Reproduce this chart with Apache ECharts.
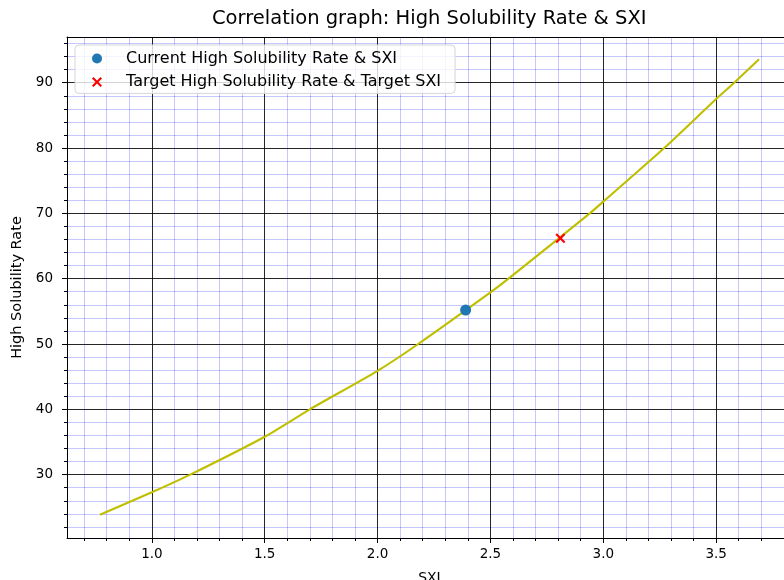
<!DOCTYPE html>
<html>
<head>
<meta charset="utf-8">
<script src="https://cdn.jsdelivr.net/npm/echarts@6/dist/echarts.min.js"></script>
<style>
  html, body { margin: 0; padding: 0; background: #fff; }
  #chart { width: 784px; height: 580px; }
</style>
</head>
<body>
<div id="chart"></div>
<script>
// curve (SXI -> High Solubility Rate)
const curveSXI = [0.77, 1.0, 1.17, 1.5, 1.70, 2.0, 2.18, 2.5, 2.58, 2.94, 3.0, 3.27, 3.5, 3.58, 3.69];
const curveRate = [23.85, 27.3, 30, 35.8, 40, 45.9, 50, 57.9, 60, 70, 71.8, 80, 87.5, 90, 93.6];

const currentPoint = [2.39, 55.2];
const targetPoint = [2.81, 66.2];

const xTicks = [1.0, 1.5, 2.0, 2.5, 3.0, 3.5];
const yTicks = [30, 40, 50, 60, 70, 80, 90];

const seriesNames = ['Current High Solubility Rate & SXI', 'Target High Solubility Rate & Target SXI'];

const FONT = 'DejaVu Sans';
// thin "x" marker like matplotlib's
const crossPath = 'path://M1.5,0 L5,3.5 L8.5,0 L10,1.5 L6.5,5 L10,8.5 L8.5,10 L5,6.5 L1.5,10 L0,8.5 L3.5,5 L0,1.5 Z';

const chart = echarts.init(document.getElementById('chart'), null, { renderer: 'canvas' });

const option = {
  animation: false,
  backgroundColor: '#fff',
  title: {
    text: 'Correlation graph: High Solubility Rate & SXI',
    left: 212,
    top: 9,
    padding: 0,
    textStyle: { fontFamily: FONT, fontSize: 19.5, fontWeight: 'normal', color: '#000' }
  },
  legend: {
    orient: 'vertical',
    left: 75,
    top: 45,
    padding: [4, 14, 2, 17],
    itemGap: 4.4,
    itemWidth: 10,
    itemHeight: 10,
    backgroundColor: 'rgba(255,255,255,0.8)',
    borderColor: '#d6d6d6',
    borderWidth: 1,
    borderRadius: 4,
    textStyle: { fontFamily: FONT, fontSize: 16, color: '#000', lineHeight: 19, padding: [0, 0, 0, 19] },
    data: [
      { name: seriesNames[0], icon: 'circle' },
      { name: seriesNames[1], icon: crossPath }
    ]
  },
  grid: { left: 67, top: 37, width: 725, height: 501, outerBoundsMode: 'none' },
  xAxis: [
    {
      type: 'value',
      min: 0.624,
      max: 3.836,
      splitNumber: 6,
      position: 'bottom',
      name: 'SXI',
      nameLocation: 'middle',
      nameGap: 33,
      nameTextStyle: { fontFamily: FONT, fontSize: 13.9, color: '#000' },
      axisLine: { show: true, lineStyle: { color: '#000', width: 1 } },
      axisTick: { show: true, customValues: xTicks, length: 5, lineStyle: { color: '#000' } },
      minorTick: { show: true, splitNumber: 5, length: 3, lineStyle: { color: '#000' } },
      axisLabel: {
        customValues: xTicks, margin: 9,
        fontFamily: FONT, fontSize: 13.5, color: '#000',
        formatter: v => v.toFixed(1)
      },
      splitLine: { show: true, lineStyle: { color: '#000', width: 1, opacity: 0.85 } },
      minorSplitLine: { show: true, lineStyle: { color: 'rgba(0,0,255,0.22)', width: 1 } }
    },
    {
      type: 'value',
      min: 0.624,
      max: 3.836,
      position: 'top',
      axisLine: { show: true, lineStyle: { color: '#000', width: 1 } },
      axisTick: { show: false },
      axisLabel: { show: false },
      splitLine: { show: false }
    }
  ],
  yAxis: {
    type: 'value',
    min: 20.3,
    max: 97.0,
    splitNumber: 8,
    name: 'High Solubility Rate',
    nameLocation: 'middle',
    nameGap: 41,
    nameTextStyle: { fontFamily: FONT, fontSize: 14.5, color: '#000' },
    axisLine: { show: true, lineStyle: { color: '#000', width: 1 } },
    axisTick: { show: true, customValues: yTicks, length: 5, lineStyle: { color: '#000' } },
    minorTick: { show: true, splitNumber: 5, length: 3, lineStyle: { color: '#000' } },
    axisLabel: {
      customValues: yTicks, margin: 14,
      fontFamily: FONT, fontSize: 13.5, color: '#000'
    },
    splitLine: { show: true, lineStyle: { color: '#000', width: 1, opacity: 0.85 } },
    minorSplitLine: { show: true, lineStyle: { color: 'rgba(0,0,255,0.22)', width: 1 } }
  },
  series: [
    {
      type: 'line',
      name: 'curve',
      data: curveSXI.map((x, i) => [x, curveRate[i]]),
      smooth: 0.2,
      showSymbol: false,
      lineStyle: { color: '#bfbf00', width: 2.1 },
      itemStyle: { color: '#bfbf00' },
      z: 3
    },
    {
      type: 'scatter',
      name: seriesNames[0],
      data: [currentPoint],
      symbol: 'circle',
      symbolSize: 11,
      itemStyle: { color: '#1f77b4', opacity: 1 },
      z: 5
    },
    {
      type: 'scatter',
      name: seriesNames[1],
      data: [targetPoint],
      symbol: crossPath,
      symbolSize: 10,
      itemStyle: { color: '#ff0000', opacity: 1 },
      z: 5
    }
  ]
};

chart.setOption(option);
</script>
</body>
</html>
